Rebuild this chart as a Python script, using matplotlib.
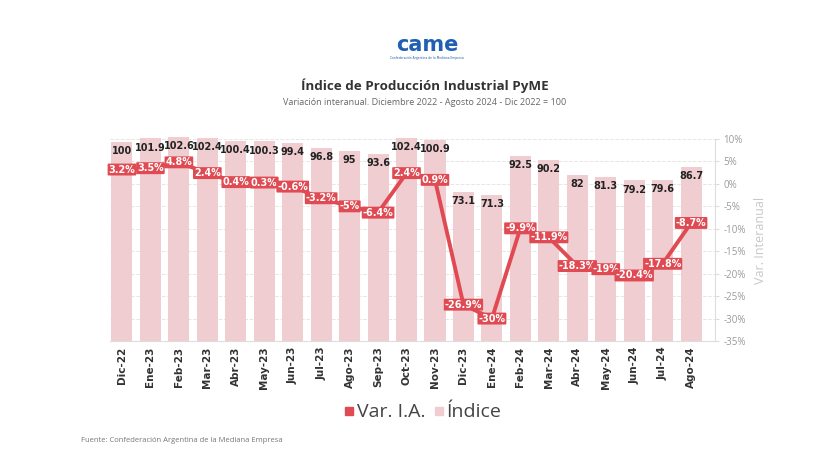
import matplotlib.pyplot as plt
from matplotlib.lines import Line2D

months = ["Dic-22", "Ene-23", "Feb-23", "Mar-23", "Abr-23", "May-23", "Jun-23",
          "Jul-23", "Ago-23", "Sep-23", "Oct-23", "Nov-23", "Dic-23", "Ene-24",
          "Feb-24", "Mar-24", "Abr-24", "May-24", "Jun-24", "Jul-24", "Ago-24"]
indice = [100, 101.9, 102.6, 102.4, 100.4, 100.3, 99.4, 96.8, 95, 93.6, 102.4,
          100.9, 73.1, 71.3, 92.5, 90.2, 82, 81.3, 79.2, 79.6, 86.7]
var_ia = [3.2, 3.5, 4.8, 2.4, 0.4, 0.3, -0.6, -3.2, -5, -6.4, 2.4, 0.9,
          -26.9, -30, -9.9, -11.9, -18.3, -19, -20.4, -17.8, -8.7]
pct_ticks = [10, 5, 0, -5, -10, -15, -20, -25, -30, -35]

BAR = "#f0cdd0"
RED = "#e04a52"
IDX_MIN, IDX_MAX = -7.7, 101.6
x = list(range(len(months)))
UI = "Open Sans"

fig = plt.figure(figsize=(8.29, 4.66), dpi=100)
rect = [0.1327, 0.2682, 0.7298, 0.4335]

# percent axis: ticks on the right + grid
ax = fig.add_axes(rect)
ax.set_xlim(-0.42, 20.84)
ax.set_ylim(-35, 10)
ax.yaxis.tick_right()
ax.set_yticks(pct_ticks)
ax.set_yticklabels([f"{t}%" for t in pct_ticks], color="#9a9a9a", fontsize=7, family=UI)
ax.tick_params(axis="y", length=3, color="#dddddd", pad=3)
ax.grid(axis="y", color="#e6e6e6", linestyle="--", linewidth=0.7)
for s in ["top", "left"]:
    ax.spines[s].set_visible(False)
ax.spines["right"].set_color("#dddddd")
ax.spines["bottom"].set_color("#dddddd")
ax.set_xticks(x)
ax.set_xticklabels(months, rotation=90, fontsize=7.5, fontweight="bold", color="#333333")
ax.tick_params(axis="x", length=0, pad=4)
ax.yaxis.set_label_position("right")
ax.set_ylabel("Var. Interanual", color="#c8c8c8", fontsize=9, labelpad=6, family=UI)

# bars for the index
axb = fig.add_axes(rect, sharex=ax)
axb.patch.set_visible(False)
axb.axis("off")
axb.set_ylim(IDX_MIN, IDX_MAX)
bars = axb.bar(x, [v - IDX_MIN for v in indice], bottom=IDX_MIN, width=0.74, color=BAR)
for b in bars:
    b.set_clip_on(False)
for xi, v in zip(x, indice):
    axb.annotate(f"{v:g}", (xi, v), xytext=(0, -3), textcoords="offset points",
                 ha="center", va="top", fontsize=7, fontweight="bold", color="#222222",
                 annotation_clip=False)

# line for the year-on-year variation
axl = fig.add_axes(rect, sharex=ax)
axl.patch.set_visible(False)
axl.axis("off")
axl.set_ylim(-35, 10)
axl.plot(x, var_ia, color=RED, linewidth=2.8, solid_capstyle="round")
for xi, v in zip(x, var_ia):
    axl.text(xi, v, f"{v:g}%", ha="center", va="center", fontsize=6.9,
             fontweight="bold", color="white",
             bbox=dict(boxstyle="round,pad=0.1", fc=RED, ec="none"))

# legend
handles = [Line2D([], [], marker="s", linestyle="none", color=RED, markersize=5.5),
           Line2D([], [], marker="s", linestyle="none", color=BAR, markersize=5.5)]
fig.legend(handles, ["Var. I.A.", "Índice"], loc="center", bbox_to_anchor=(0.506, 0.115),
           ncol=2, frameon=False, prop={"family": UI, "size": 14}, handletextpad=-0.2,
           columnspacing=0.1, handlelength=1.2, labelcolor="#444444")

# header
fig.text(0.515, 0.903, "came", ha="center", va="center", fontsize=15,
         fontweight="bold", color="#1f5fb4")
fig.text(0.515, 0.876, "Confederación Argentina de la Mediana Empresa", ha="center",
         va="center", fontsize=2.2, color="#1f5fb4")
fig.text(0.513, 0.817, "Índice de Producción Industrial PyME", ha="center", va="center",
         fontsize=9.6, fontweight="bold", color="#333333", family=UI)
fig.text(0.512, 0.779, "Variación interanual. Diciembre 2022 - Agosto 2024 - Dic 2022 = 100",
         ha="center", va="center", fontsize=6.45, color="#666666", family=UI)
fig.text(0.098, 0.055, "Fuente: Confederación Argentina de la Mediana Empresa",
         ha="left", va="center", fontsize=5.5, color="#777777", family=UI)

fig.savefig("out.png", dpi=100, facecolor="white")
